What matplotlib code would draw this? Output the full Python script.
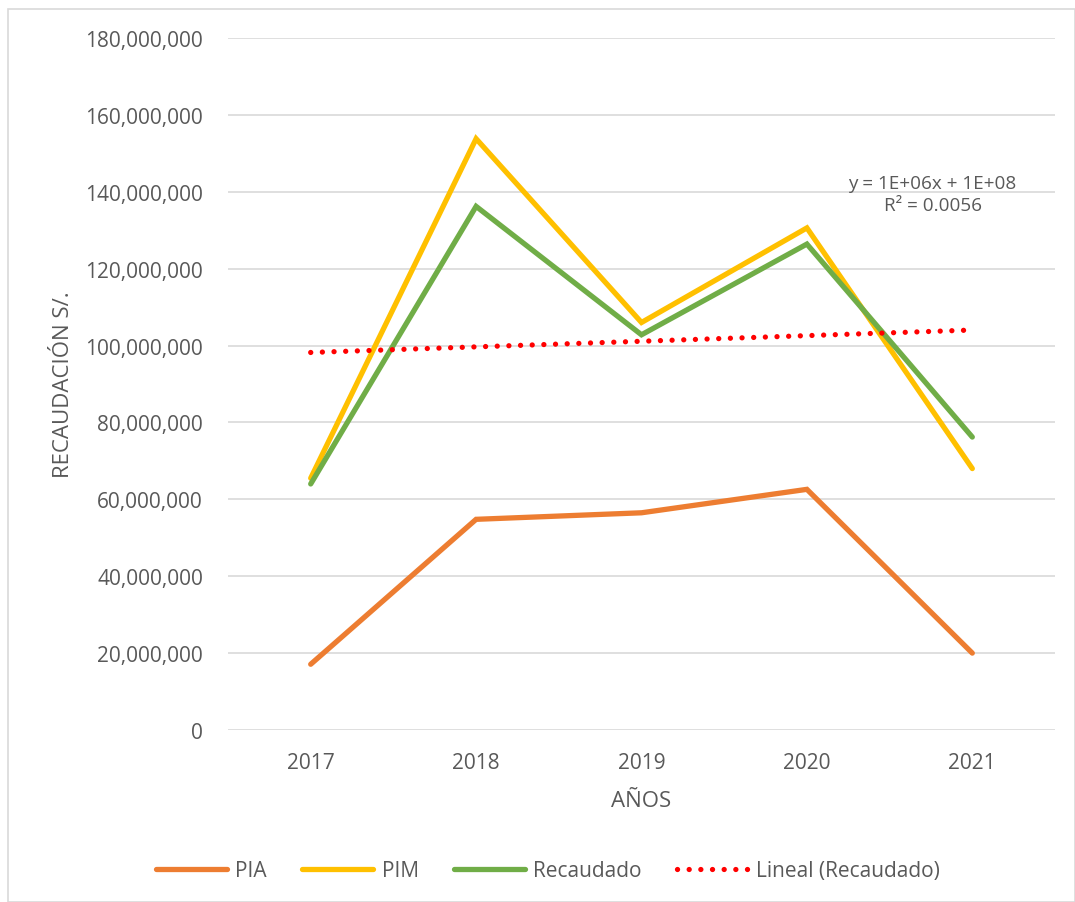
import numpy as np
import matplotlib.pyplot as plt
from matplotlib.ticker import FuncFormatter
from matplotlib.patches import Rectangle

plt.rcParams['font.family'] = ['Open Sans', 'DejaVu Sans']

years = ['2017', '2018', '2019', '2020', '2021']
pia = [17.1e6, 54.8e6, 56.5e6, 62.6e6, 20.0e6]
pim = [65.5e6, 153.8e6, 106.0e6, 130.6e6, 68.0e6]
recaudado = [64.0e6, 136.2e6, 102.8e6, 126.4e6, 76.2e6]

GRAY = '#595959'

fig = plt.figure(figsize=(10.75, 9.03), dpi=100)
ax = fig.add_axes([228 / 1075, 1 - 731 / 903, (1055 - 228) / 1075, (731 - 39) / 903])

# outer chart border
fig.patches.append(Rectangle((8 / 1075, 0.0), 1 - 8 / 1075, 1 - 10 / 903, transform=fig.transFigure,
                             fill=False, edgecolor='#d9d9d9', linewidth=1.2))

x = np.arange(len(years))
ax.plot(x, pia, color='#ed7d31', lw=3.8, solid_capstyle='round', solid_joinstyle='miter', label='PIA', zorder=3)
ax.plot(x, pim, color='#ffc000', lw=3.8, solid_capstyle='round', solid_joinstyle='miter', label='PIM', zorder=3)
ax.plot(x, recaudado, color='#70ad47', lw=3.8, solid_capstyle='round', solid_joinstyle='miter',
        label='Recaudado', zorder=4)

# linear trend of Recaudado
m, b = np.polyfit(x, recaudado, 1)
ax.plot(x, m * x + b, color='#ff0000', lw=3.8, linestyle=(0, (0.01, 2.2)), dash_capstyle='round',
        label='Lineal (Recaudado)', zorder=5)

ax.text(3.76, 139.5e6, 'y = 1E+06x + 1E+08\nR² = 0.0056', ha='center', va='center', fontsize=13.6,
        color=GRAY, linespacing=1.3)

ax.set_xlim(-0.5, 4.5)
ax.set_ylim(0, 180e6)
ax.set_yticks(np.arange(0, 180e6 + 1, 20e6))
ax.yaxis.set_major_formatter(FuncFormatter(lambda v, p: f'{v:,.0f}'))
ax.set_xticks(x)
ax.set_xticklabels(years)
ax.grid(axis='y', color='#d9d9d9', lw=1.2)
ax.set_axisbelow(True)
for s in ax.spines.values():
    s.set_visible(False)
ax.tick_params(length=0, labelsize=15, colors=GRAY)
ax.tick_params(axis='y', pad=18)
ax.tick_params(axis='x', pad=16)

ax.set_xlabel('AÑOS', fontsize=16, color=GRAY, labelpad=12)
ax.set_ylabel('RECAUDACIÓN S/.', fontsize=16, color=GRAY, labelpad=8)

fig.legend(loc='center', bbox_to_anchor=(0.51, 1 - 872 / 903), ncol=4, frameon=False, fontsize=15,
           labelcolor=GRAY, handlelength=3.4, columnspacing=1.7, handletextpad=0.4)

fig.savefig('out.png', dpi=100)
